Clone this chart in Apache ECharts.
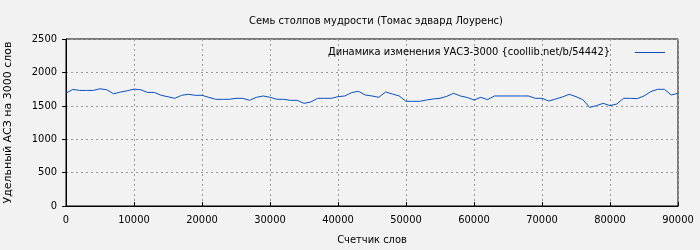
<!DOCTYPE html>
<html>
<head>
<meta charset="utf-8">
<script src="https://cdn.jsdelivr.net/npm/echarts@6/dist/echarts.min.js"></script>
<style>
html,body{margin:0;padding:0;background:#f2f2f2;}
#c{width:700px;height:250px;}
</style>
</head>
<body>
<div id="c"></div>
<script>
var chartTitle = 'Семь столпов мудрости (Томас эдвард Лоуренс)';
var seriesName = 'Динамика изменения УАСЗ-3000 {coollib.net/b/54442}';
var xName = 'Счетчик слов';
var yName = 'Удельный АСЗ на 3000 слов';
var wordCounts = [0,1000,2000,3000,4000,5000,6000,7000,8000,9000,
  10000,11000,12000,13000,14000,15000,16000,17000,18000,19000,
  20000,21000,22000,23000,24000,25000,26000,27000,28000,29000,
  30000,31000,32000,33000,34000,35000,36000,37000,38000,39000,
  40000,41000,42000,43000,44000,45000,46000,47000,48000,49000,
  50000,51000,52000,53000,54000,55000,56000,57000,58000,59000,
  60000,61000,62000,63000,64000,65000,66000,67000,68000,69000,
  70000,71000,72000,73000,74000,75000,76000,77000,78000,79000,
  80000,81000,82000,83000,84000,85000,86000,87000,88000,89000,90000];
var asValues = [1690,1745,1730,1730,1730,1755,1740,1680,1705,1725,
  1750,1740,1700,1700,1657,1635,1612,1657,1672,1657,
  1657,1627,1597,1597,1597,1612,1612,1582,1627,1647,
  1627,1597,1597,1582,1582,1537,1557,1612,1612,1612,
  1637,1647,1697,1717,1662,1647,1627,1707,1677,1647,
  1567,1567,1567,1587,1602,1612,1642,1687,1647,1625,
  1587,1627,1592,1647,1647,1647,1647,1647,1647,1612,
  1612,1572,1602,1632,1672,1637,1592,1477,1502,1537,
  1502,1527,1612,1612,1607,1647,1712,1747,1747,1662,1687];

var data = wordCounts.map(function(x,i){return [x, asValues[i]];});
var font = 'DejaVu Sans Condensed, DejaVu Sans';
var plain = function(v){return String(v);};
var chart = echarts.init(document.getElementById('c'), null, {renderer:'canvas'});
chart.setOption({
  backgroundColor:'#f2f2f2',
  animation:false,
  title:{text:chartTitle,left:371,top:11,textAlign:'center',
    textStyle:{fontFamily:font,fontSize:11,fontWeight:'normal',color:'#000'}},
  legend:{right:30,top:42,align:'right',icon:'rect',itemWidth:30,itemHeight:1,
    textStyle:{fontFamily:font,fontSize:11,color:'#000',padding:[0,20,0,0]},
    data:[{name:seriesName}]},
  grid:{left:66,right:22,top:39,bottom:44,outerBoundsMode:'none',containLabel:false,
    show:true,borderColor:'#000',borderWidth:1,backgroundColor:'transparent'},
  xAxis:{type:'value',min:0,max:90000,interval:10000,
    name:xName,nameLocation:'middle',nameGap:29,
    nameTextStyle:{fontFamily:font,fontSize:11,color:'#000'},
    axisLine:{lineStyle:{color:'#000'}},
    axisTick:{inside:true,length:4,lineStyle:{color:'#000'}},
    axisLabel:{fontFamily:font,fontSize:11,color:'#000',margin:9,formatter:plain},
    splitLine:{show:true,lineStyle:{color:'#999',type:[2,3]}}},
  yAxis:{type:'value',min:0,max:2500,interval:500,
    name:yName,nameLocation:'middle',nameGap:52,
    nameTextStyle:{fontFamily:'DejaVu Sans',fontSize:11,color:'#000'},
    axisLine:{lineStyle:{color:'#000'}},
    axisTick:{length:4,lineStyle:{color:'#000'}},
    axisLabel:{fontFamily:font,fontSize:11,color:'#000',margin:9,formatter:plain},
    splitLine:{show:true,lineStyle:{color:'#999',type:[2,3]}}},
  series:[{name:seriesName,type:'line',data:data,symbol:'none',
    lineStyle:{color:'#0a4fbf',width:1},itemStyle:{color:'#0a4fbf'}}]
});
</script>
</body>
</html>
